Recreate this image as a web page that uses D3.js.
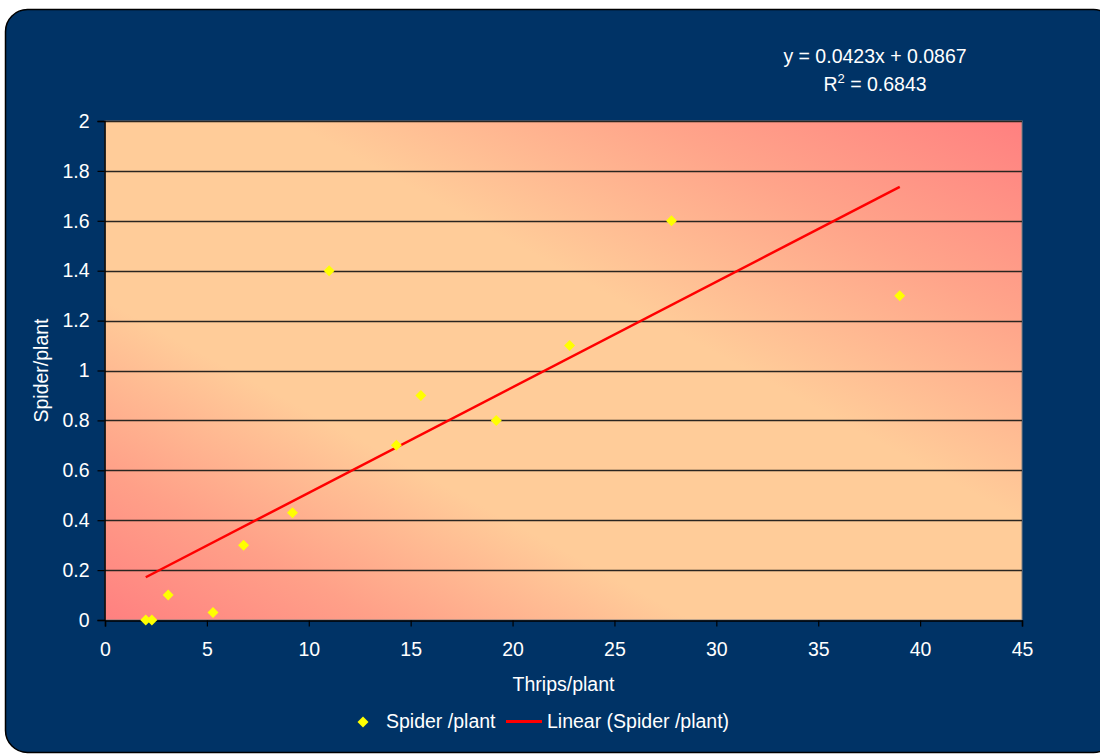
<!DOCTYPE html>
<html>
<head>
<meta charset="utf-8"/>
<title>Spider vs thrips</title>
<script src="https://cdn.jsdelivr.net/npm/d3@7"></script>
<style>
  body { margin: 0; background: #ffffff; }
  svg text { font-family: "Liberation Sans", Arial, sans-serif; fill: #ffffff; }
</style>
</head>
<body>
<div id="chart"></div>
<script>
// Data
var thrips  = [2.0, 2.3, 3.1, 5.3, 6.8, 9.2, 11.0, 14.3, 15.5, 19.2, 22.8, 27.8, 39.0];
var spiders = [0.0, 0.0, 0.1, 0.03, 0.3, 0.43, 1.4, 0.7, 0.9, 0.8, 1.1, 1.6, 1.3];
var xTicks = [0, 5, 10, 15, 20, 25, 30, 35, 40, 45];
var yTicks = [0, 0.2, 0.4, 0.6, 0.8, 1, 1.2, 1.4, 1.6, 1.8, 2];
var trend = { slope: 0.0423, intercept: 0.0867, r2: 0.6843 };

var W = 1100, H = 754;
var FS = "19.5px";
var plot = { left: 105, top: 121, right: 1022, bottom: 620 };

var svg = d3.select("#chart").append("svg")
  .attr("width", W).attr("height", H);

// outer frame
svg.append("rect")
  .attr("x", 5.5).attr("y", 9.5)
  .attr("width", 1110).attr("height", 743)
  .attr("rx", 22).attr("ry", 22)
  .attr("fill", "#003366")
  .attr("stroke", "#000000").attr("stroke-width", 1.5);

// plot fill: red in bottom-left / top-right corners, peach across the middle
var defs = svg.append("defs");
var grad = defs.append("linearGradient").attr("id", "plotFill")
  .attr("x1", 0).attr("y1", 1).attr("x2", 1).attr("y2", 0);
[[0, "#ff8080"], [0.15, "#ffa088"], [0.32, "#ffcc99"], [0.6, "#ffcc99"],
 [0.8, "#ffa48a"], [1, "#ff8080"]].forEach(function(s) {
  grad.append("stop").attr("offset", s[0]).attr("stop-color", s[1]);
});

var x = d3.scaleLinear().domain([0, 45]).range([plot.left, plot.right]);
var y = d3.scaleLinear().domain([0, 2]).range([plot.bottom, plot.top]);

svg.append("rect")
  .attr("x", plot.left).attr("y", plot.top)
  .attr("width", plot.right - plot.left).attr("height", plot.bottom - plot.top)
  .attr("fill", "url(#plotFill)")
  .attr("stroke", "#808080").attr("stroke-width", 1);

// gridlines
svg.append("g").selectAll("line").data(yTicks.filter(function(d) { return d > 0; }))
  .join("line")
  .attr("x1", plot.left).attr("x2", plot.right)
  .attr("y1", function(d) { return Math.round(y(d)) + 0.5; })
  .attr("y2", function(d) { return Math.round(y(d)) + 0.5; })
  .attr("stroke", "#2a2520").attr("stroke-width", 1.3);

// axes
var xAxis = svg.append("g")
  .attr("transform", "translate(0," + (plot.bottom + 0.5) + ")")
  .call(d3.axisBottom(x).tickValues(xTicks).tickSize(6).tickPadding(16).tickFormat(d3.format("d")));
var yAxis = svg.append("g")
  .attr("transform", "translate(" + (plot.left - 0.5) + ",0)")
  .call(d3.axisLeft(y).tickValues(yTicks).tickSize(7).tickPadding(8).tickFormat(function(d) { return String(+d.toFixed(1)); }));

[xAxis, yAxis].forEach(function(a) {
  a.select(".domain").attr("stroke", "#000000").attr("stroke-width", 1.5);
  a.selectAll(".tick line").attr("stroke", "#000000").attr("stroke-width", 1.2);
  a.selectAll(".tick text").attr("fill", "#ffffff").style("font-size", FS)
    .style("font-family", "'Liberation Sans', Arial, sans-serif");
});

// axis titles
svg.append("text")
  .attr("x", (plot.left + plot.right) / 2).attr("y", 691)
  .attr("text-anchor", "middle").style("font-size", FS)
  .text("Thrips/plant");
svg.append("text")
  .attr("transform", "translate(48," + ((plot.top + plot.bottom) / 2) + ") rotate(-90)")
  .attr("text-anchor", "middle").style("font-size", FS)
  .text("Spider/plant");

// trendline
var xMin = d3.min(thrips), xMax = d3.max(thrips);
svg.append("line")
  .attr("x1", x(xMin)).attr("y1", y(trend.slope * xMin + trend.intercept))
  .attr("x2", x(xMax)).attr("y2", y(trend.slope * xMax + trend.intercept))
  .attr("stroke", "#ff0000").attr("stroke-width", 2.5);

// points
var diamond = d3.symbol().type(d3.symbolSquare).size(60);
svg.append("g").selectAll("path").data(d3.range(thrips.length))
  .join("path")
  .attr("d", diamond)
  .attr("transform", function(i) { return "translate(" + x(thrips[i]) + "," + y(spiders[i]) + ") rotate(45)"; })
  .attr("fill", "#ffff00");

// equation
var eq = svg.append("g").attr("transform", "translate(875,0)");
eq.append("text").attr("y", 63).attr("text-anchor", "middle").style("font-size", FS)
  .text("y = " + trend.slope + "x + " + trend.intercept);
var r2 = eq.append("text").attr("y", 91).attr("text-anchor", "middle").style("font-size", FS);
r2.append("tspan").text("R");
r2.append("tspan").attr("dy", -8).style("font-size", "13px").text("2");
r2.append("tspan").attr("dy", 8).text(" = " + trend.r2);

// legend
var lg = svg.append("g");
lg.append("path").attr("d", diamond)
  .attr("transform", "translate(363,722) rotate(45)").attr("fill", "#ffff00");
lg.append("text").attr("x", 386).attr("y", 728).style("font-size", FS).text("Spider /plant");
lg.append("line").attr("x1", 506).attr("x2", 542).attr("y1", 721.5).attr("y2", 721.5)
  .attr("stroke", "#ff0000").attr("stroke-width", 3);
lg.append("text").attr("x", 547).attr("y", 728).style("font-size", FS).text("Linear (Spider /plant)");
</script>
</body>
</html>
